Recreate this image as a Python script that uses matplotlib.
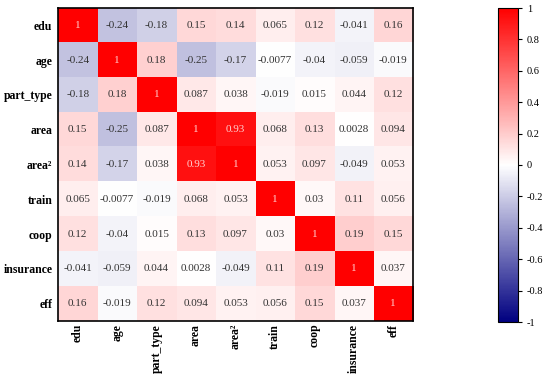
import numpy as np
import matplotlib
matplotlib.use("Agg")
import matplotlib.pyplot as plt
from matplotlib.colors import LinearSegmentedColormap

labels = ["edu", "age", "part_type", "area", "area²", "train", "coop", "insurance", "eff"]
r_edu = [1, -0.24, -0.18, 0.15, 0.14, 0.065, 0.12, -0.041, 0.16]
r_age = [-0.24, 1, 0.18, -0.25, -0.17, -0.0077, -0.04, -0.059, -0.019]
r_part = [-0.18, 0.18, 1, 0.087, 0.038, -0.019, 0.015, 0.044, 0.12]
r_area = [0.15, -0.25, 0.087, 1, 0.93, 0.068, 0.13, 0.0028, 0.094]
r_area2 = [0.14, -0.17, 0.038, 0.93, 1, 0.053, 0.097, -0.049, 0.053]
r_train = [0.065, -0.0077, -0.019, 0.068, 0.053, 1, 0.03, 0.11, 0.056]
r_coop = [0.12, -0.04, 0.015, 0.13, 0.097, 0.03, 1, 0.19, 0.15]
r_ins = [-0.041, -0.059, 0.044, 0.0028, -0.049, 0.11, 0.19, 1, 0.037]
r_eff = [0.16, -0.019, 0.12, 0.094, 0.053, 0.056, 0.15, 0.037, 1]
cbar_ticks = [-1, -0.8, -0.6, -0.4, -0.2, 0, 0.2, 0.4, 0.6, 0.8, 1]

M = np.array([r_edu, r_age, r_part, r_area, r_area2, r_train, r_coop, r_ins, r_eff])

cmap = LinearSegmentedColormap.from_list("nwr", ["#000080", "#ffffff", "#ff0000"])

fig = plt.figure(figsize=(5.5, 3.76), dpi=100)
W, H = 550, 376
ax = fig.add_axes([58 / W, 1 - 321 / H, 355 / W, 313 / H])
cax = fig.add_axes([498 / W, 1 - 322 / H, 20 / W, 314 / H])

im = ax.imshow(M, cmap=cmap, vmin=-1, vmax=1, aspect="auto", interpolation="nearest")
n = len(labels)
for i in range(n):
    for j in range(n):
        v = M[i, j]
        txt = format(v, ".2g")
        col = "#ffd0d0" if v > 0.5 else "#333333"
        ax.text(j, i, txt, ha="center", va="center", fontsize=8,
                family="Liberation Serif", color=col)

ax.set_xticks(range(n))
ax.set_yticks(range(n))
ax.set_xticklabels(labels, rotation=90, family="Liberation Serif", fontweight="bold", fontsize=8.5)
ax.set_yticklabels(labels, family="Liberation Serif", fontweight="bold", fontsize=8.5)
ax.tick_params(axis="x", length=0, pad=2)
ax.tick_params(axis="y", length=0, pad=4)
for s in ax.spines.values():
    s.set_linewidth(1.2)
    s.set_color("black")

cb = fig.colorbar(im, cax=cax, ticks=cbar_ticks)
cb.ax.set_yticklabels([format(t, "g") for t in cbar_ticks], family="Liberation Serif", fontsize=7.5)
cb.ax.tick_params(length=3, width=0.8)
cb.outline.set_linewidth(0.8)

fig.savefig("out.png", dpi=100)
